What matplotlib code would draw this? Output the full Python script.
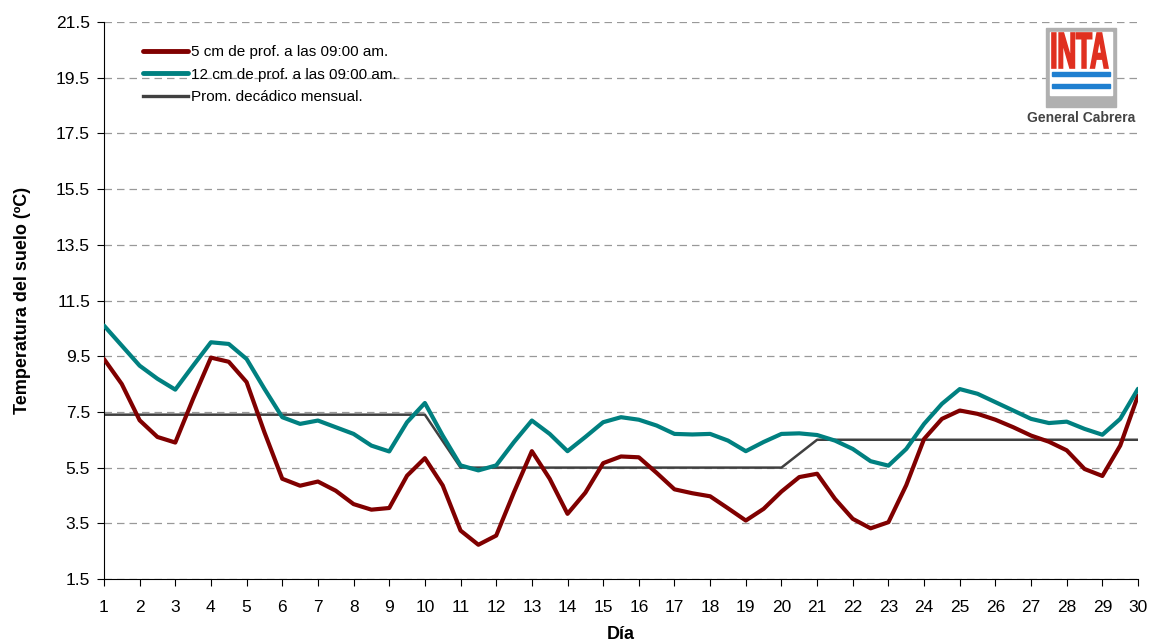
import matplotlib
matplotlib.use("Agg")
import matplotlib.pyplot as plt
from matplotlib.patches import Rectangle, PathPatch
from matplotlib.textpath import TextPath
from matplotlib.font_manager import FontProperties
from matplotlib.transforms import Affine2D, IdentityTransform

plt.rcParams['font.family'] = ['Liberation Sans', 'DejaVu Sans']

# readings every half day
dias = [1, 1.5, 2, 2.5, 3, 3.5, 4, 4.5, 5, 5.5, 6, 6.5, 7, 7.5, 8, 8.5, 9, 9.5,
        10, 10.5, 11, 11.5, 12, 12.5, 13, 13.5, 14, 14.5, 15, 15.5, 16, 16.5,
        17, 17.5, 18, 18.5, 19, 19.5, 20, 20.5, 21, 21.5, 22, 22.5, 23, 23.5,
        24, 24.5, 25, 25.5, 26, 26.5, 27, 27.5, 28, 28.5, 29, 29.5, 30]
t5cm = [9.4, 8.5, 7.2, 6.6, 6.4, 7.97, 9.45, 9.3, 8.57, 6.77, 5.1, 4.85, 5.0,
        4.67, 4.19, 3.99, 4.05, 5.21, 5.84, 4.86, 3.24, 2.73, 3.06, 4.62, 6.09,
        5.1, 3.84, 4.6, 5.66, 5.9, 5.87, 5.31, 4.72, 4.58, 4.47, 4.04, 3.6,
        4.02, 4.64, 5.16, 5.28, 4.38, 3.66, 3.32, 3.54, 4.87, 6.53, 7.25, 7.55,
        7.43, 7.22, 6.95, 6.65, 6.43, 6.12, 5.45, 5.2, 6.29, 8.09]
t12cm = [10.6, 9.88, 9.16, 8.69, 8.3, 9.16, 10.0, 9.94, 9.4, 8.33, 7.31, 7.07,
         7.19, 6.95, 6.71, 6.29, 6.08, 7.13, 7.82, 6.65, 5.58, 5.4, 5.58, 6.42,
         7.19, 6.71, 6.09, 6.6, 7.13, 7.31, 7.22, 7.01, 6.71, 6.69, 6.71, 6.47,
         6.09, 6.42, 6.71, 6.73, 6.67, 6.47, 6.17, 5.73, 5.57, 6.17, 7.07, 7.79,
         8.32, 8.15, 7.85, 7.55, 7.25, 7.1, 7.15, 6.89, 6.68, 7.25, 8.33]
prom_dias = [1, 10, 11, 20, 21, 30]
prom = [7.4, 7.4, 5.5, 5.5, 6.5, 6.5]

fig = plt.figure(figsize=(11.5, 6.41), dpi=100)
ax = fig.add_axes([0.0904, 0.0967, 0.8992, 0.869])

ax.plot(dias, t5cm, color='#800000', lw=3.0, solid_joinstyle='round',
        solid_capstyle='round', label='5 cm de prof. a las 09:00 am.', zorder=3)
ax.plot(dias, t12cm, color='#008080', lw=3.0, solid_joinstyle='round',
        solid_capstyle='round', label='12 cm de prof. a las 09:00 am.', zorder=3)
ax.plot(prom_dias, prom, color='#404040', lw=1.8,
        label='Prom. decádico mensual.', zorder=2)

ax.set_xlim(1, 30)
ax.set_ylim(1.5, 21.5)
ax.set_xticks(range(1, 31))
ax.set_yticks([1.5 + 2 * i for i in range(11)])
ax.set_yticklabels(['%.1f' % (1.5 + 2 * i) for i in range(11)])
ax.tick_params(labelsize=12.5, length=5, color='black')
ax.tick_params(axis='x', pad=10)
ax.tick_params(axis='y', pad=5)
ax.yaxis.grid(True, linestyle=(0, (6, 4)), color='#999999', lw=0.9)
ax.set_axisbelow(True)
for s in ['top', 'right']:
    ax.spines[s].set_visible(False)

ax.set_xlabel('Día', fontsize=13, fontweight='bold', labelpad=8)
ax.set_ylabel('Temperatura del suelo (ºC)', fontsize=13, fontweight='bold', labelpad=18)

leg = ax.legend(loc='upper left', bbox_to_anchor=(0.024, 0.983), frameon=False,
                fontsize=11, handlelength=3.0, handletextpad=0.2,
                labelspacing=0.55)
for h in leg.get_lines()[:2]:
    h.set_linewidth(3.5)
leg.get_lines()[2].set_linewidth(2.4)

# INTA logo
H = 641
fig.patches.append(Rectangle((1046 / 1150, 1 - 107 / H), 70 / 1150, 79 / H,
                             transform=fig.transFigure, color='#b0b0b0', zorder=5))
fig.patches.append(Rectangle((1050 / 1150, 1 - 95 / H), 62 / 1150, 63 / H,
                             transform=fig.transFigure, color='white', zorder=6))
tp = TextPath((0, 0), 'INTA', size=10, prop=FontProperties(family='Liberation Sans', weight='bold'))
bb = tp.get_extents()
tr = (Affine2D().translate(-bb.x0, -bb.y0)
      .scale(56 / bb.width, 35 / bb.height)
      .translate(1052, H - 68) + IdentityTransform())
fig.patches.append(PathPatch(tp, transform=tr, facecolor='#e03020',
                             edgecolor='#e03020', lw=1.2, zorder=7))
fig.patches.append(Rectangle((1052 / 1150, 1 - 76 / H), 58 / 1150, 4 / H,
                             transform=fig.transFigure, color='#1f7fd0', zorder=7))
fig.patches.append(Rectangle((1052 / 1150, 1 - 88 / H), 58 / 1150, 4 / H,
                             transform=fig.transFigure, color='#1f7fd0', zorder=7))
fig.text(1081 / 1150, 1 - 118 / H, 'General Cabrera', color='#444444',
         fontsize=10, fontweight='bold', ha='center', va='center', zorder=7)

fig.savefig('out.png', dpi=100)
